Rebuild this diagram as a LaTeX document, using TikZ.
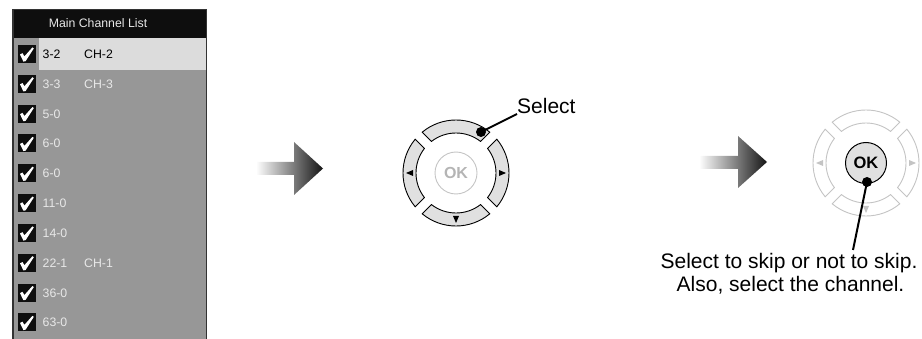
\documentclass[tikz,border=0pt]{standalone}
\usepackage{fontspec}
\setmainfont{Liberation Sans}
\definecolor{panelgray}{HTML}{979797}
\definecolor{hilite}{HTML}{DCDCDC}
\definecolor{rowtext}{HTML}{E8E8E8}
\definecolor{hdr}{HTML}{0E0E0E}
\definecolor{segfill}{HTML}{E0E0E0}
\definecolor{faint}{HTML}{C4C4C4}
\definecolor{okgray}{HTML}{B4B4B4}
\newcommand\dialring[3]{%
  \foreach \p in {0,90,180,270}{%
    \filldraw[fill=#1,draw=#2,line width=0.9pt]
      (\p-39.58:53) arc[start angle=\p-39.58,end angle=\p+39.58,radius=53]
      -- (\p+37.82:40) arc[start angle=\p+37.82,end angle=\p-37.82,radius=40] -- cycle;
    \fill[#3,rotate=\p] (50,0) -- (43,3) -- (43,-3) -- cycle;
  }}
\begin{document}
\begin{tikzpicture}[x=1pt,y=-1pt,
  rowtxt/.style={font=\fontsize{12.3}{14}\selectfont, text=rowtext, anchor=base west, inner sep=0pt},
  chkbox/.style={fill=hdr, minimum size=18pt, inner sep=0pt},
  chkmark/.pic={\fill[white] (-7,0.5) -- (-4.5,-0.8) -- (-2.6,2.4) -- (5.4,-6.6) -- (6.8,-5.6) -- (-1.4,7.2) -- (-3.6,7.6) -- cycle;},
  bigtxt/.style={font=\fontsize{21}{24}\selectfont, inner sep=0pt},
  dot/.style={circle, fill=black, minimum size=10pt, inner sep=0pt},
  leader/.style={line width=2pt, draw=black}]
\useasboundingbox (0,0) rectangle (922,339);
\clip (0,0) rectangle (922,339);
% ---- channel list panel
\fill[panelgray] (12,9) rectangle (207,345);
\fill[hdr] (12,9) rectangle (207,38);
\fill[hilite] (39,38) rectangle (206,70);
\draw[draw=black!80, line width=1.6pt] (12.8,9.5) rectangle (206.5,350);
\node[font=\fontsize{12.3}{14}\selectfont, text=rowtext] (hd) at (98,23.5) {Main Channel List};
\foreach \i/\a/\b in {1/3-2/CH-2,2/3-3/CH-3,3/5-0/,4/6-0/,5/6-0/,6/11-0/,7/14-0/,8/22-1/CH-1,9/36-0/,10/63-0/}{
  \pgfmathsetmacro\yy{54+(\i-1)*29.83}
  \node[chkbox] (box\i) at (27,\yy) {};
  \pic at (box\i) {chkmark};
  \ifnum\i=1
    \node[rowtxt, text=black] (a\i) at (42.5,\yy+4.4) {\a};
    \node[rowtxt, text=black] (b\i) at (84,\yy+4.4) {\b};
  \else
    \node[rowtxt] (a\i) at (42.5,\yy+4.4) {\a};
    \node[rowtxt] (b\i) at (84,\yy+4.4) {\b};
  \fi
}
% ---- arrows
\shade[left color=white, right color=black!92]
  (256,162) -- (294,162) -- (294,142) -- (323,168.5) -- (294,195) -- (294,175) -- (256,175) -- cycle;
\shade[left color=white, right color=black!92]
  (699,156) -- (738,156) -- (738,136) -- (767,162) -- (738,188) -- (738,169) -- (699,169) -- cycle;
% ---- dial 1
\begin{scope}[shift={(456,173)}]
  \dialring{segfill}{black}{black}
\end{scope}
\node[circle, draw=faint, line width=0.9pt, minimum size=42pt, inner sep=0pt,
      font=\fontsize{16}{16}\selectfont\bfseries, text=okgray] (ok1) at (456,173) {OK};
\node[dot] (d1) at (481,132) {};
\node[bigtxt, anchor=base west] (sel) at (517,114) {Select};
\draw[leader] (d1.center) -- (sel.base west);
% ---- dial 2
\begin{scope}[shift={(866,163)}]
  \dialring{white}{faint}{faint}
\end{scope}
\node[circle, draw=black, fill=segfill, line width=1pt, minimum size=41pt, inner sep=0pt,
      font=\fontsize{16.5}{16.5}\selectfont\bfseries] (ok2) at (866,163) {OK};
\node[dot] (d2) at (867,182) {};
\node[bigtxt, anchor=base] (t1) at (789,269) {Select to skip or not to skip.};
\node[bigtxt, anchor=base] (t2) at (790.5,291.5) {Also, select the channel.};
\coordinate (e2) at (853,250);
\draw[leader] (d2.center) -- (e2);
\end{tikzpicture}
\end{document}
